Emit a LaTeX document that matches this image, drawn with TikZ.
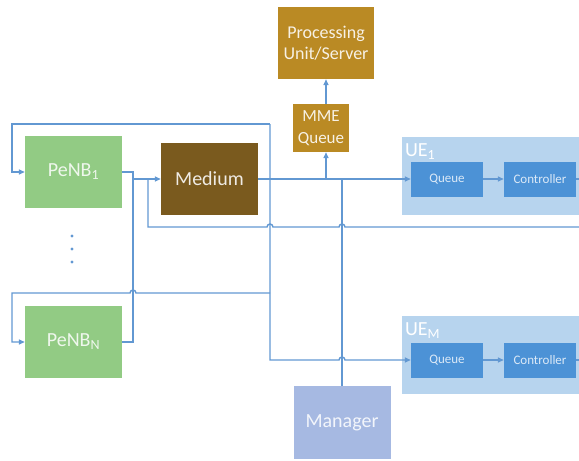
\documentclass[tikz,border=0pt]{standalone}
\usepackage{fontspec}
\setmainfont{Carlito}
\usetikzlibrary{arrows.meta}
\definecolor{lnblue}{RGB}{98,152,210}
\definecolor{penbgreen}{RGB}{146,203,132}
\definecolor{medbrown}{RGB}{122,90,30}
\definecolor{mmegold}{RGB}{186,138,36}
\definecolor{uebg}{RGB}{183,212,238}
\definecolor{uebox}{RGB}{76,146,214}
\definecolor{mgrblue}{RGB}{166,185,226}
\tikzset{
  wire/.style={draw=lnblue,line width=1.4pt},
  arr/.style={wire,-{Triangle[length=6pt,width=5pt]}},
  blk/.style={inner sep=0pt,align=center,minimum width=97,minimum height=72,font=\fontsize{20}{24}\selectfont},
  penb/.style={blk,fill=penbgreen,text=white!85!penbgreen},
  gold/.style={blk,fill=mmegold,text=white!88!mmegold},
  uebox/.style={inner sep=0pt,fill=uebg,minimum width=177,minimum height=78},
  uepart/.style={inner sep=0pt,fill=uebox,text=white!80!uebox,minimum width=72,minimum height=35,font=\fontsize{13}{15}\selectfont},
  uelabel/.style={anchor=base west,inner sep=0pt,text=white,font=\fontsize{20}{24}\selectfont},
}
\begin{document}
\begin{tikzpicture}[x=1pt,y=-1pt]
  \useasboundingbox (0,0) rectangle (579,461);
  % blocks
  \node[penb] (p1) at (73.5,172) {PeNB\textsubscript{1}};
  \node[penb] (pN) at (73.5,342) {PeNB\textsubscript{N}};
  \node[blk,fill=medbrown,text=white!88!medbrown] (med) at (209.5,179) {Medium};
  \node[gold,minimum width=96,font=\fontsize{18}{21}\selectfont] (pu) at (326,43) {Processing\\Unit/Server};
  \node[gold,minimum width=56,minimum height=48,font=\fontsize{17}{22}\selectfont] (mme) at (321,128) {MME\\Queue};
  \node[blk,fill=mgrblue,text=white!85!mgrblue,minimum height=73] (mgr) at (342,422.5) {Manager};
  % UEs
  \node[uebox] (ue1) at (490.5,176) {};
  \node[uebox] (ueM) at (490.5,355) {};
  \node[uelabel] at ([xshift=3pt,yshift=-20pt]ue1.north west) {UE\textsubscript{1}};
  \node[uelabel] at ([xshift=3pt,yshift=-20pt]ueM.north west) {UE\textsubscript{M}};
  \node[uepart] (q1) at (447,179) {Queue};
  \node[uepart] (c1) at (540,179) {Controller};
  \node[uepart] (qM) at (447,360) {Queue};
  \node[uepart] (cM) at (540,360) {Controller};
  \foreach \y in {236,249,262} \fill[lnblue] (72,\y) circle (1.6pt);
  % junctions
  \coordinate (bt) at (270,124);
  \coordinate (bl) at (12,124);
  \coordinate (bm) at (270,293);
  \coordinate (bb) at (270,360);
  \coordinate (pb) at (133,342);
  \coordinate (pm) at (133,179);
  \coordinate (ps) at (148,179);
  \coordinate (pe) at (579,227);
  \coordinate (mj) at (326,179);
  \coordinate (gj) at (342,179);
  \coordinate (e1) at (579,179);
  \coordinate (eM) at (579,360);
  % connectors
  \draw[arr] (med.east) -- (q1.west);
  \draw[arr] (mj) -- (mj |- mme.south);
  \draw[arr] (pu.south |- mme.north) -- (pu.south);
  \draw[wire] (gj) -- (mgr.north);
  \draw[arr] (bt) -- (bl) |- (p1.west);
  \draw[arr] (bt) -- (bb) -- ([xshift=-3pt]342,360) arc[start angle=180,end angle=0,radius=3pt] -- (qM.west);
  \draw[arr] (bm) -- ([xshift=3pt]133,293) arc[start angle=0,end angle=180,radius=3pt] -- (12,293) |- (pN.west);
  \draw[wire] (p1.east) -| (pb) -- (pN.east);
  \draw[arr] (pm) -- (med.west);
  \draw[wire] (ps) -- (148,227) -- ([xshift=-3pt]270,227) arc[start angle=180,end angle=0,radius=3pt]
    -- ([xshift=-3pt]342,227) arc[start angle=180,end angle=0,radius=3pt] -- (pe);
  \draw[arr] (q1) -- (c1);
  \draw[arr] (qM) -- (cM);
  \draw[wire] (c1.east) -- (e1);
  \draw[wire] (cM.east) -- (eM);
\end{tikzpicture}
\end{document}
